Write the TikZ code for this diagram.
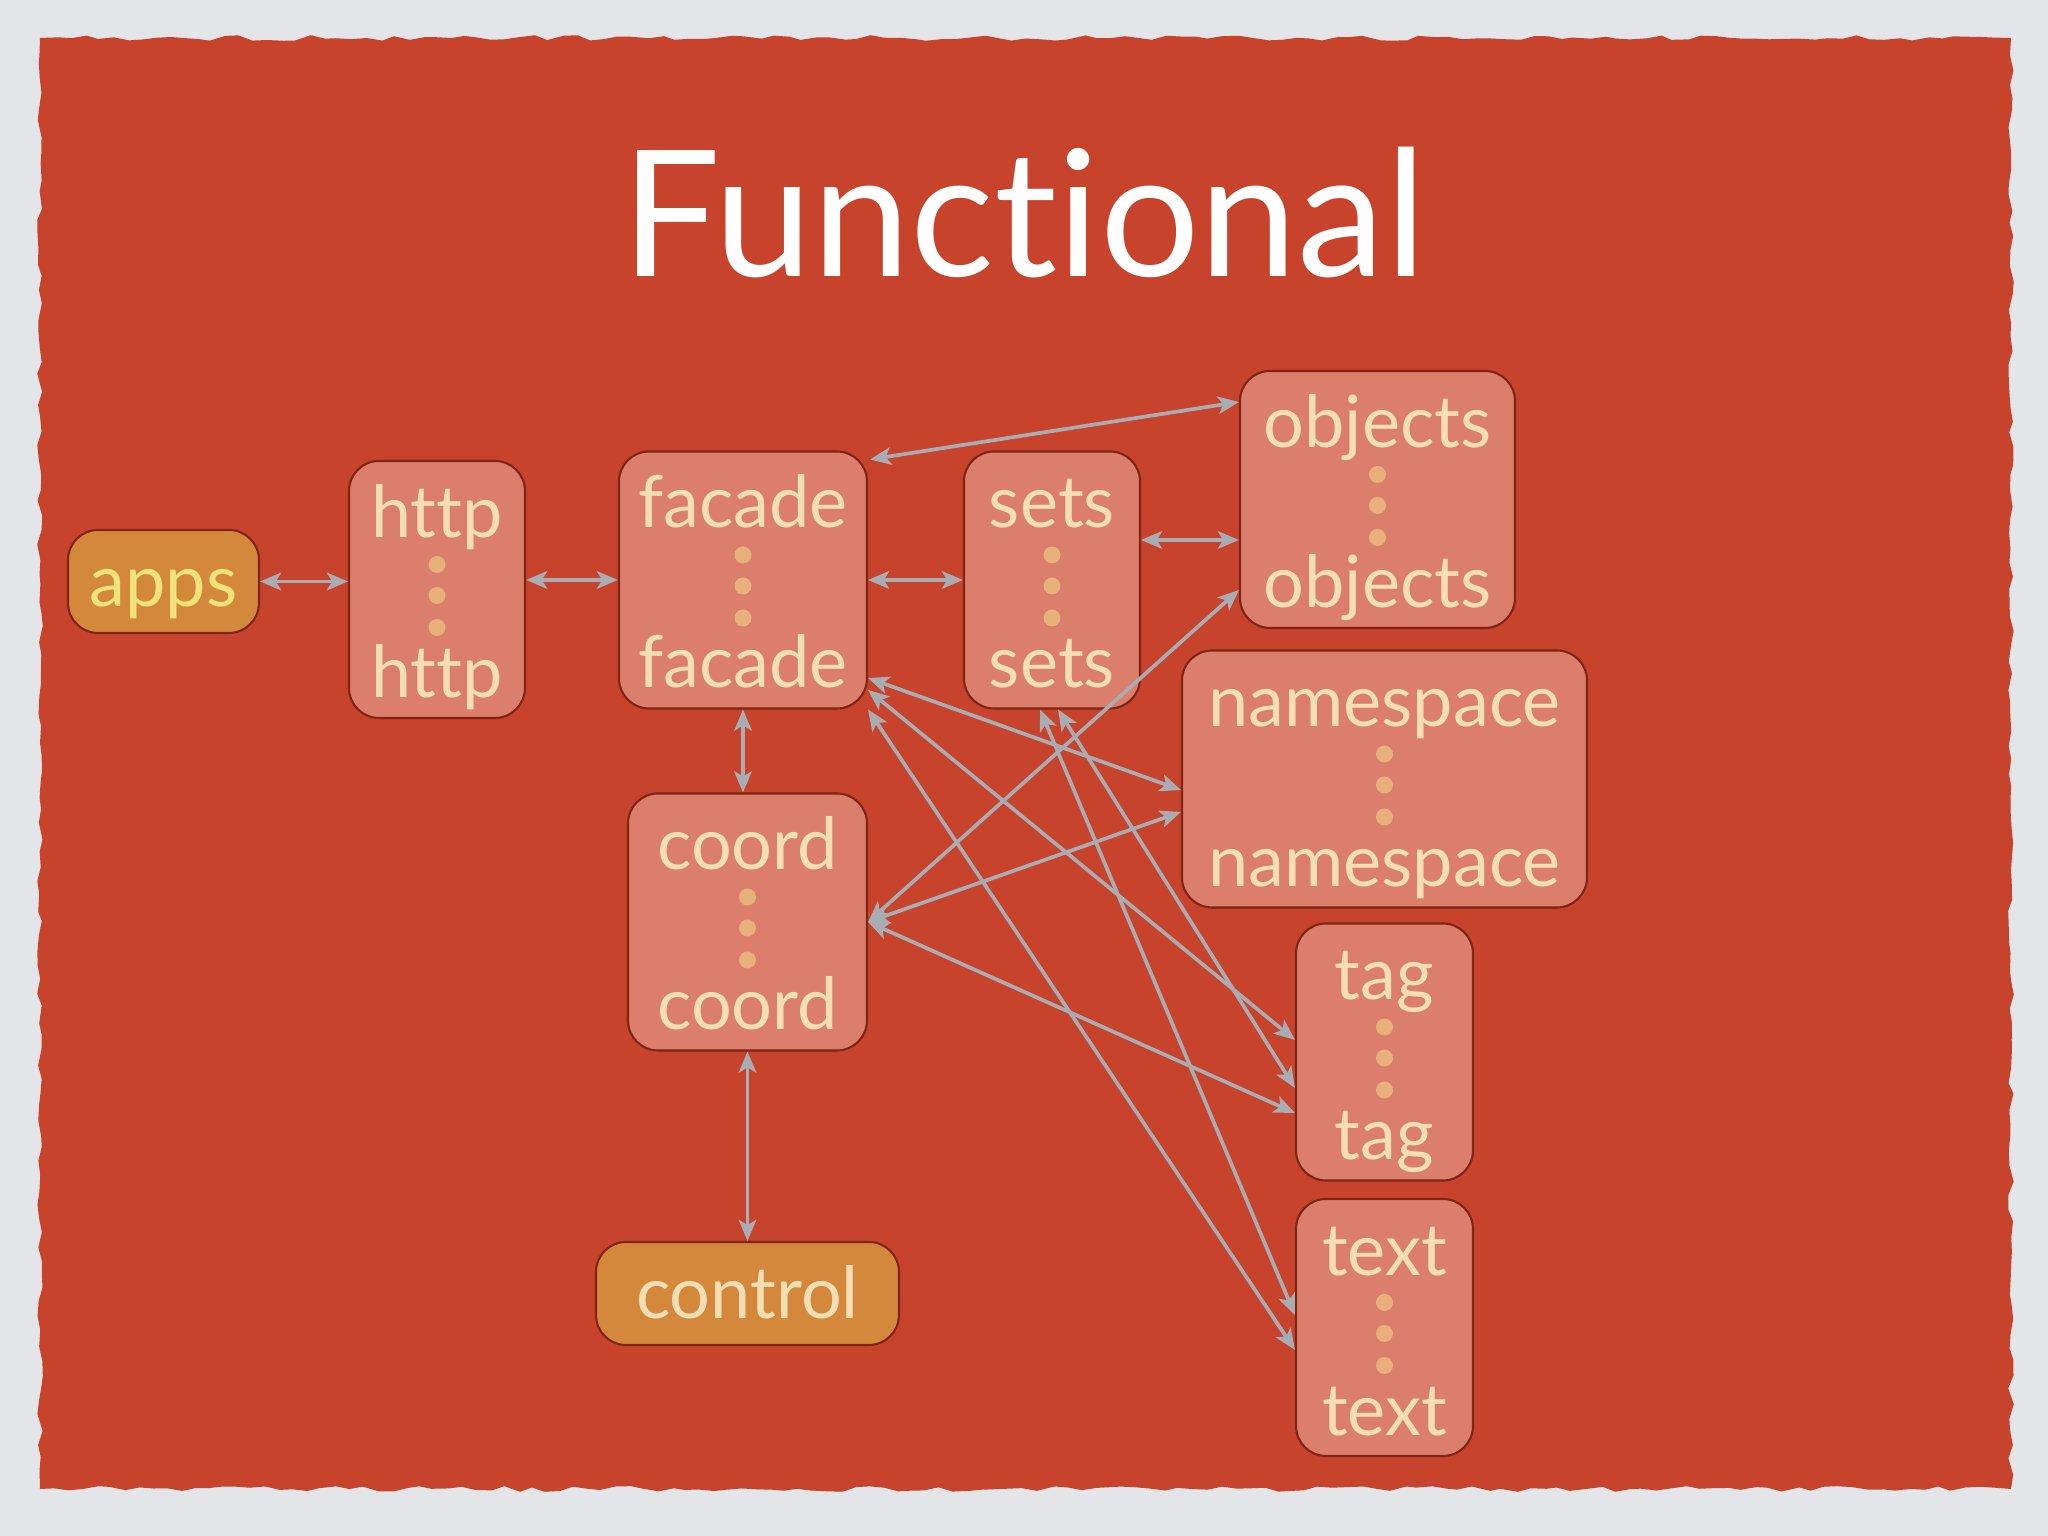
\documentclass[tikz,border=0pt]{standalone}
\usepackage{fontspec}
\setmainfont{Lato}[Ligatures=NoCommon]
\usetikzlibrary{arrows.meta}
\usetikzlibrary{decorations.pathmorphing}
\definecolor{paper}{RGB}{228, 229, 232}
\definecolor{red1}{RGB}{200, 67, 44}
\definecolor{salmon1}{RGB}{219, 126, 108}
\definecolor{edge1}{RGB}{126, 37, 21}
\definecolor{cream1}{RGB}{244, 223, 180}
\definecolor{dot1}{RGB}{232, 176, 122}
\definecolor{orange1}{RGB}{212, 136, 60}
\definecolor{yellow1}{RGB}{240, 227, 122}
\definecolor{gray1}{RGB}{169, 173, 179}

% one layer box: label on top, three dots, label again at the bottom
\newcommand{\stackbox}[4]{%
  \node[layer, minimum width=#3] (#1) at (#2) {};
  \node[lbl] (#1-top) at ([yshift=0.52cm]#1.center) {#4};
  \node[lbl] (#1-bot) at ([yshift=-1.08cm]#1.center) {#4};
  \foreach \d in {0.25,-0.06,-0.38}
    \fill[dot1] ([yshift=\d cm]#1.center) circle (0.085);
}

\begin{document}
\begin{tikzpicture}[line width=1pt,
  >={Stealth[length=6pt,width=5pt,inset=1.5pt]},
  link/.style={<->, draw=gray1, line width=1.05pt},
  layer/.style={rounded corners=0.3cm, fill=salmon1, draw=edge1, line width=0.6pt,
    minimum height=2.57cm, inner sep=0pt},
  pill/.style={rounded corners=0.3cm, fill=orange1, draw=edge1, line width=0.6pt,
    minimum height=1.03cm, inner sep=0pt, text height=0.51cm, text depth=0pt,
    font=\fontsize{20.5}{24}\selectfont},
  lbl/.style={anchor=base, inner sep=0pt, text=cream1, font=\fontsize{20.5}{24}\selectfont}]
  \useasboundingbox (0,0) rectangle (20.48,15.36);
  \fill[paper] (0,0) rectangle (20.48,15.36);
  \pgfmathsetseed{7}
  \fill[red1, decorate, decoration={random steps, segment length=4pt, amplitude=0.8pt}]
    (0.40,0.47) -- (20.11,0.47) -- (20.11,14.98) -- (0.40,14.98) -- cycle;
  \node[anchor=base, text=white, font=\fontsize{50}{58}\selectfont] (title) at (10.24,12.59) {Functional};

  \node[pill, minimum width=1.91cm, text=yellow1] (apps) at (1.635,9.545) {apps};
  \node[pill, minimum width=3.03cm, text=cream1] (control) at (7.475,2.425) {control};
  \stackbox{http}{4.37,9.465}{1.76cm}{http}
  \stackbox{facade}{7.43,9.56}{2.48cm}{facade}
  \stackbox{sets}{10.52,9.56}{1.76cm}{sets}
  \stackbox{objects}{13.775,10.365}{2.75cm}{objects}
  \stackbox{namespace}{13.845,7.57}{4.05cm}{namespace}
  \stackbox{coord}{7.475,6.14}{2.39cm}{coord}
  \stackbox{tag}{13.845,4.84}{1.77cm}{tag}
  \stackbox{text}{13.845,2.085}{1.77cm}{text}

  \draw[link] (apps.east) -- (apps.east -| http.west);
  \draw[link] (http.east |- facade.west) -- (facade.west);
  \draw[link] (facade.east) -- (sets.west);
  \draw[link] ([yshift=0.4cm]sets.east) -- ([yshift=-0.405cm]objects.west);
  \draw[link] ([shift={(0.02,-0.09)}]facade.north east) -- ([yshift=0.975cm]objects.west);
  \draw[link] (facade.south) -- (facade.south |- coord.north);
  \draw[link] (coord.south) -- (coord.south |- control.north);
  \draw[link] ([yshift=-0.98cm]facade.east) -- ([yshift=-0.11cm]namespace.west);
  \draw[link] ([yshift=-1.10cm]facade.east) -- ([yshift=0.12cm]tag.west);
  \draw[link] (facade.south east) -- ([yshift=-0.225cm]text.west);
  \draw[link] ([xshift=-0.12cm]sets.south) -- ([yshift=0.125cm]text.west);
  \draw[link] ([xshift=0.06cm]sets.south) -- ([yshift=-0.36cm]tag.west);
  \foreach \to/\s in {objects/-0.905, namespace/-0.33, tag/-0.61}
    \draw[link] (coord.east) -- ([yshift=\s cm]\to.west);
\end{tikzpicture}
\end{document}
